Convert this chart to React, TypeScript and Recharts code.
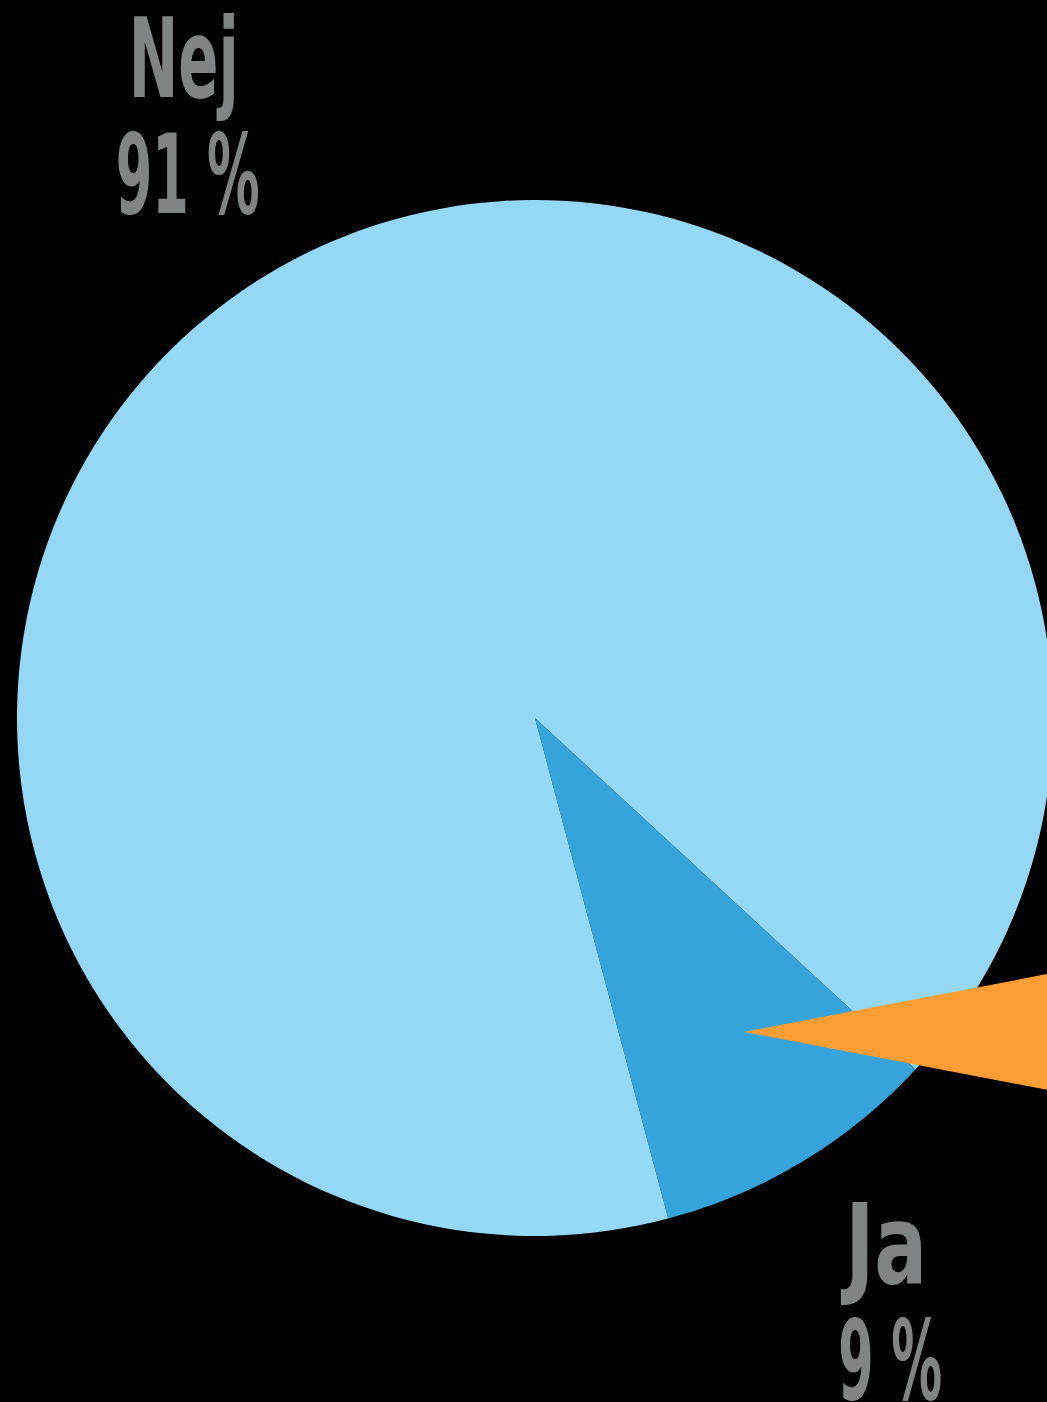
import React from 'react';
import { PieChart, Pie, Cell } from 'recharts';

const categories = ['Ja', 'Nej'];
const values = [9, 91];
const sliceColors = ['#35A4DA', '#94D8F5'];
const pointerData = [{ name: 'pointer', value: 1 }];

const W = 1047;
const H = 1402;
const CX = 535;
const CY = 718;
const R = 518;
const START = -42.7;
const LABEL_RX = 680;
const LABEL_RY = 692;
const RAD = Math.PI / 180;

// pointer (decorative callout) placed relative to the pie geometry
const PTR_ANGLE = -56.35;
const PTR_DIST = 0.728 * R;
const PTR_CX = CX + PTR_DIST * Math.cos(-PTR_ANGLE * RAD);
const PTR_CY = CY + PTR_DIST * Math.sin(-PTR_ANGLE * RAD);

const data = categories.map((c, i) => ({ name: c, value: values[i] }));

const nameWidths: Record<string, number> = { Ja: 82, Nej: 110 };
const pctWidths: Record<string, number> = { Ja: 104, Nej: 144 };

const renderLabel = (props: any) => {
  const { cx, cy, midAngle, index } = props;
  const x = cx + LABEL_RX * Math.cos(-midAngle * RAD);
  const y = cy + LABEL_RY * Math.sin(-midAngle * RAD);
  const name = categories[index];
  const pct = `${values[index]} %`;
  const style = {
    fontFamily: '"DejaVu Sans Condensed", "DejaVu Sans", sans-serif',
    fontWeight: 700,
    fontSize: 110,
    fill: '#808485',
  } as React.CSSProperties;
  return (
    <g key={`lbl-${index}`}>
      <text x={x} y={y - 28} textAnchor="middle" style={style} textLength={nameWidths[name]} lengthAdjust="spacingAndGlyphs">
        {name}
      </text>
      <text x={x + 4} y={y + 88} textAnchor="middle" style={style} textLength={pctWidths[name]} lengthAdjust="spacingAndGlyphs">
        {pct}
      </text>
    </g>
  );
};

export default function App() {
  return (
    <div style={{ position: 'absolute', top: 0, left: 0, width: W, height: H, background: '#000', overflow: 'hidden' }}>
      <PieChart width={W} height={H} margin={{ top: 0, right: 0, bottom: 0, left: 0 }}>
        <Pie
          data={data}
          dataKey="value"
          nameKey="name"
          cx={CX}
          cy={CY}
          outerRadius={R}
          innerRadius={0}
          startAngle={START}
          endAngle={START - 360}
          stroke="none"
          label={renderLabel}
          labelLine={false}
          isAnimationActive={false}
        >
          {data.map((d, i) => (
            <Cell key={d.name} fill={sliceColors[i]} stroke="none" />
          ))}
        </Pie>
        <Pie
          data={pointerData}
          dataKey="value"
          cx={PTR_CX}
          cy={PTR_CY}
          outerRadius={430}
          innerRadius={0}
          startAngle={-10.8}
          endAngle={10.8}
          fill="#FF9E35"
          stroke="none"
          label={false}
          labelLine={false}
          isAnimationActive={false}
        />
      </PieChart>
    </div>
  );
}
